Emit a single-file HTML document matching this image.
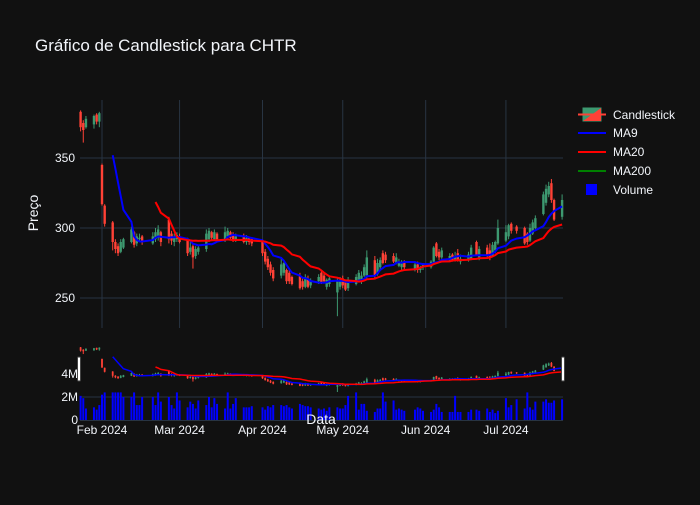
<!DOCTYPE html>
<html><head><meta charset="utf-8"><style>
body{margin:0;background:#111111;}
svg text{font-family:"Liberation Sans",sans-serif;fill:#f2f5fa;}
</style></head><body>
<svg id="chart" width="700" height="500" viewBox="0 0 700 500" xmlns="http://www.w3.org/2000/svg">
<rect width="700" height="500" fill="#111111"/>
<text x="35" y="51" font-size="17">Gráfico de Candlestick para CHTR</text>
<g id="grid"></g>
<g id="marks"></g>
<g id="slider"></g>
<g id="vol"></g>
<g id="axes"></g>
<text x="38" y="213" font-size="14" text-anchor="middle" transform="rotate(-90 38 213)">Preço</text>
<text x="321" y="424" font-size="14" text-anchor="middle">Data</text>
<g>
 <g>
  <rect x="583" y="108" width="18" height="13" fill="#3D9970" stroke="#3D9970" stroke-width="1"/>
  <polygon points="601,108 601,121 583,121" fill="#FF4136"/>
  <line x1="578" y1="114.5" x2="606" y2="114.5" stroke="#FF4136" stroke-width="2"/>
  <text x="613" y="119" font-size="12">Candlestick</text></g>
 <g><line x1="578" y1="133" x2="606" y2="133" stroke="#0000ff" stroke-width="2"/><text x="613" y="137" font-size="12">MA9</text></g>
 <g><line x1="578" y1="152" x2="606" y2="152" stroke="#ff0000" stroke-width="2"/><text x="613" y="156" font-size="12">MA20</text></g>
 <g><line x1="578" y1="171" x2="606" y2="171" stroke="#008000" stroke-width="2"/><text x="613" y="175" font-size="12">MA200</text></g>
 <g><rect x="586" y="184" width="11" height="11" fill="#0000ff"/><text x="613" y="194" font-size="12">Volume</text></g>
</g>
</svg>
<script>
const dates=["01-24","01-25","01-26","01-29","01-30","01-31",
"02-01","02-02","02-05","02-06","02-07","02-08","02-09","02-12","02-13","02-14","02-15","02-16","02-20","02-21","02-22","02-23","02-26","02-27","02-28","02-29",
"03-01","03-04","03-05","03-06","03-07","03-08","03-11","03-12","03-13","03-14","03-15","03-18","03-19","03-20","03-21","03-22","03-25","03-26","03-27","03-28",
"04-01","04-02","04-03","04-04","04-05","04-08","04-09","04-10","04-11","04-12","04-15","04-16","04-17","04-18","04-19","04-22","04-23","04-24","04-25","04-26","04-29","04-30",
"05-01","05-02","05-03","05-06","05-07","05-08","05-09","05-10","05-13","05-14","05-15","05-16","05-17","05-20","05-21","05-22","05-23","05-24","05-28","05-29","05-30","05-31",
"06-03","06-04","06-05","06-06","06-07","06-10","06-11","06-12","06-13","06-14","06-17","06-18","06-20","06-21","06-24","06-25","06-26","06-27","06-28",
"07-01","07-02","07-03","07-05","07-08","07-09","07-10","07-11","07-12","07-15","07-16","07-17","07-18","07-19","07-22"];
const opens=[383,375,372,374,381,376,
345,316,304,290,287,283,286,290,297,289,292,294,289,292,293,297,306,296,290,292,
294,292,283,287,280,283,285,292,297,292,296,291,294,297,295,291,294,290,293,292,
291,283,278,274,270,266,268,270,268,265,266,262,258,264,259,262,268,266,258,260,254,258,
264,262,257,260,263,262,266,266,277,267,272,282,281,280,275,273,272,276,270,274,270,272,
272,276,289,283,279,277,281,277,282,276,277,278,290,279,286,284,280,284,289,
291,294,303,301,300,296,291,296,300,310,318,324,332,320,308];
const closes=[372,370,378,380,376,382,
317,303,290,285,282,290,292,299,288,294,293,290,294,297,299,290,292,291,294,295,
290,282,286,279,285,286,296,298,293,297,292,297,298,293,292,294,290,293,290,289,
282,276,272,268,264,274,275,262,262,260,257,258,265,258,262,265,261,262,263,264,262,263,
259,256,262,265,268,266,272,279,266,275,277,275,277,276,279,276,275,272,274,270,272,274,
276,286,280,279,284,280,277,280,277,278,281,286,281,285,280,279,288,290,300,
297,302,298,298,289,290,300,304,307,324,328,330,320,306,320];
const highs=[384,377,380,381,382,383,
346,317,305,292,289,292,293,301,298,296,296,295,297,300,302,298,308,298,296,297,
296,293,290,289,287,288,299,300,298,299,297,301,300,298,297,296,296,295,294,293,
292,285,280,276,272,279,276,271,270,266,268,264,267,266,264,267,270,268,264,266,264,265,
266,263,265,267,270,269,274,284,280,278,279,284,283,282,282,278,277,277,276,276,273,275,
277,287,290,285,286,282,282,283,285,281,283,288,291,287,288,289,290,291,306,
302,303,304,302,301,297,303,306,309,326,331,333,335,321,324];
const lows=[369,361,371,371,374,372,
316,301,284,282,280,282,285,289,286,287,290,288,288,290,291,287,289,288,287,290,
289,280,281,271,278,281,283,290,291,291,290,290,292,291,290,290,289,288,288,287,
280,274,270,266,262,264,266,260,260,259,256,256,257,257,257,260,260,261,256,258,237,256,
257,255,255,259,262,260,265,264,264,266,270,274,275,275,274,272,270,270,269,268,268,270,
271,275,279,277,278,276,276,276,276,274,276,277,280,277,278,277,279,282,288,
290,292,296,296,288,288,290,295,299,309,316,322,318,305,306];
const volumes=[2.1,1.9,1.0,1.1,0.9,1.3,
2.2,2.4,2.4,2.4,2.4,2.4,2.0,2.0,2.4,1.3,1.3,2.0,2.0,1.3,2.4,1.6,2.0,1.3,1.0,2.4,
1.7,1.1,1.6,1.4,1.0,1.7,1.3,2.0,1.1,1.9,1.4,1.0,2.4,1.0,1.4,1.9,1.1,1.1,1.1,1.2,
1.1,0.9,1.2,1.1,1.3,1.3,1.2,1.3,1.1,1.0,1.4,1.3,1.2,1.2,1.1,1.0,0.9,1.0,0.8,1.1,1.1,1.0,
1.0,1.3,2.1,2.4,0.9,1.4,1.4,0.8,0.7,1.0,1.0,2.4,1.6,1.7,0.9,1.0,0.9,0.8,0.9,1.1,1.0,0.8,
0.7,0.9,1.4,1.1,0.7,0.7,0.7,2.1,0.7,0.7,0.7,0.9,0.9,0.8,1.0,0.7,0.9,0.6,0.8,
1.9,1.1,1.3,1.8,1.0,2.4,1.1,0.9,1.6,1.6,1.8,1.5,1.5,1.7,1.8];
const priceTicks=[250,300,350];
const volTicks=[0,2,4];
const monthTicks=["2024-02-01","2024-03-01","2024-04-01","2024-05-01","2024-06-01","2024-07-01"];
const monthLabels=["Feb 2024","Mar 2024","Apr 2024","May 2024","Jun 2024","Jul 2024"];

const NS="http://www.w3.org/2000/svg";
const DAY=86400000, T0=Date.UTC(2024,1,1);
function dayOf(s){return (Date.parse(s+"T00:00:00Z")-T0)/DAY;}
function xs(d){return 102+dayOf(d)*2.675;}
function xd(i){return xs("2024-"+dates[i]);}
function yP(p){return 158+(350-p)*1.4;}
const pMin=Math.min(...lows), pMax=Math.max(...highs);
function ySl(p){return 347+(pMax-p)/(pMax-pMin)*45;}
function yV(v){return 420-v*11.5;}
function mk(tag,attrs,parent){const e=document.createElementNS(NS,tag);for(const k in attrs)e.setAttribute(k,attrs[k]);parent.appendChild(e);return e;}
const G=document.getElementById("grid"),M=document.getElementById("marks"),S=document.getElementById("slider"),V=document.getElementById("vol"),A=document.getElementById("axes");

priceTicks.forEach(t=>{
 const l=mk("line",{x1:80,x2:563,y1:yP(t),y2:yP(t),stroke:"#283442","stroke-width":1},G);
 
 
 const tx=mk("text",{x:75,y:yP(t)+4,"font-size":12,"text-anchor":"end"},A);tx.textContent=t;
 
 
});
monthTicks.forEach((m,i)=>{
 const x=xs(m);
 const l=mk("line",{x1:x,x2:x,y1:100,y2:328,stroke:"#283442","stroke-width":1},G);
 
 
 const tx=mk("text",{x:x,y:434,"font-size":12,"text-anchor":"middle"},A);tx.textContent=monthLabels[i];
 
 
});
volTicks.forEach(t=>{
 if(t>0&&t<4){const l=mk("line",{x1:80,x2:563,y1:yV(t),y2:yV(t),stroke:"#283442","stroke-width":1},G);
 
 }
 const tx=mk("text",{x:78,y:yV(t)+4,"font-size":12,"text-anchor":"end"},A);tx.textContent=t===0?"0":t+"M";
 
 
});
const vb=mk("line",{x1:80,x2:563,y1:420.5,y2:420.5,stroke:"#283442","stroke-width":1},G);



function candles(parent,yf,w){
 dates.forEach((d,i)=>{
  const x=xd(i),up=closes[i]>=opens[i],c=up?"#3D9970":"#FF4136";
  const g=mk("g",{},parent);
  
  
  mk("line",{x1:x,x2:x,y1:yf(highs[i]),y2:yf(lows[i]),stroke:c,"stroke-width":1},g);
  const t=yf(Math.max(opens[i],closes[i])),b=yf(Math.min(opens[i],closes[i]));
  mk("rect",{x:x-w/2,y:t,width:w,height:Math.max(b-t,0.8),fill:c},g);
 });
}
function ma(n){return closes.map((c,i)=>i<n-1?null:closes.slice(i-n+1,i+1).reduce((a,b)=>a+b,0)/n);}
function line(parent,vals,yf,color,name,w){
 let d="";vals.forEach((v,i)=>{if(v!==null)d+=(d?"L":"M")+xd(i).toFixed(1)+","+yf(v).toFixed(1);});
 const p=mk("path",{d:d,fill:"none",stroke:color,"stroke-width":w},parent);
 
 
}
const ma9=ma(9),ma20=ma(20);
candles(M,yP,2.4);
line(M,ma9,yP,"#0000ff","ma9-line",2);
line(M,ma20,yP,"#ff0000","ma20-line",2);
candles(S,ySl,1.8);
line(S,ma9,ySl,"#0000ff","slider-ma9-line",1.5);
line(S,ma20,ySl,"#ff0000","slider-ma20-line",1.5);
[79,563].forEach(x=>{const h=mk("rect",{x:x-1.5,y:357,width:3,height:24,fill:"#ffffff",stroke:"#444",rx:1},S);
 
 });
volumes.forEach((v,i)=>{
 const r=mk("rect",{x:xd(i)-1,y:yV(v),width:2,height:420-yV(v),fill:"#0000ff"},V);
 
 
});
</script>
</body></html>
